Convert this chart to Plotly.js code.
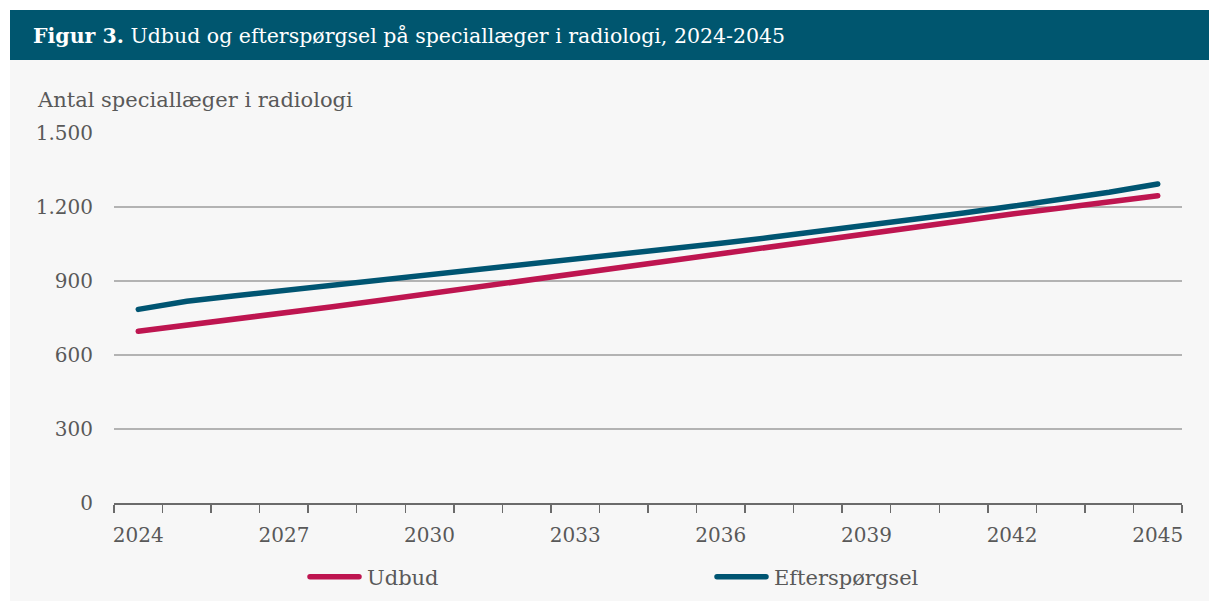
<!DOCTYPE html>
<html>
<head>
<meta charset="utf-8">
<script src="https://cdn.plot.ly/plotly-3.0.1.min.js"></script>
<style>
  html, body { margin: 0; padding: 0; background: #ffffff; }
  #chart { width: 1209px; height: 606px; }
  .scatterlayer path.js-line, .legendlines path { stroke-linecap: round; }
</style>
</head>
<body>
<div id="chart"></div>
<script>
// ---- data ----
const years = [2024, 2025, 2026, 2027, 2028, 2029, 2030, 2031, 2032, 2033, 2034,
               2035, 2036, 2037, 2038, 2039, 2040, 2041, 2042, 2043, 2044, 2045];
const udbud = [696, 720, 745, 770, 796, 822, 849, 876, 903, 930, 957,
               985, 1013, 1041, 1069, 1096, 1122, 1147, 1172, 1196, 1221, 1246];
const efterspoergsel = [785, 818, 840, 861, 882, 903, 924, 944, 965, 986, 1008,
                        1030, 1053, 1076, 1100, 1125, 1150, 1176, 1203, 1230, 1260, 1293];
const xTickYears = [2024, 2027, 2030, 2033, 2036, 2039, 2042, 2045];
const xTickLabels = ['2024', '2027', '2030', '2033', '2036', '2039', '2042', '2045'];
const yTickValues = [0, 300, 600, 900, 1200, 1500];
const seriesNames = ['Udbud', 'Efterspørgsel'];
const titleText = '<b>Figur 3.</b> Udbud og efterspørgsel på speciallæger i radiologi, 2024-2045';
const yAxisLabel = 'Antal speciallæger i radiologi';

// ---- layout helpers (pixel -> paper) ----
const W = 1209, H = 606;
const mL = 114, mR = 27, mT = 133, mB = 103;
const pw = W - mL - mR, ph = H - mT - mB;
const px = x => (x - mL) / pw;
const py = y => (H - mB - y) / ph;

const FONT = 'DejaVu Serif, serif';
const GREY = '#595959';
const LEGEND_SAMPLE = 49;

const traces = [
  { x: years, y: udbud, name: seriesNames[0], type: 'scatter', mode: 'lines',
    line: { color: '#BE1550', width: 5.5 } },
  { x: years, y: efterspoergsel, name: seriesNames[1], type: 'scatter', mode: 'lines',
    line: { color: '#005572', width: 5.5 } }
];

const layout = {
  width: W, height: H,
  margin: { l: mL, r: mR, t: mT, b: mB, autoexpand: false },
  paper_bgcolor: '#ffffff',
  plot_bgcolor: 'rgba(0,0,0,0)',
  separators: ',.',
  font: { family: FONT, color: GREY, size: 20 },
  title: {
    text: titleText,
    font: { family: FONT, size: 20.5, color: '#ffffff' },
    xref: 'container', yref: 'container',
    x: 33 / W, xanchor: 'left',
    y: 1 - 36 / H, yanchor: 'middle'
  },
  shapes: [
    { type: 'rect', xref: 'paper', yref: 'paper', layer: 'below',
      x0: px(10), x1: px(1209), y0: py(601), y1: py(60),
      fillcolor: '#f7f7f7', line: { width: 0 } },
    { type: 'rect', xref: 'paper', yref: 'paper', layer: 'below',
      x0: px(10), x1: px(1209), y0: py(60), y1: py(10),
      fillcolor: '#00566F', line: { width: 0 } }
  ],
  annotations: [
    { text: yAxisLabel, xref: 'paper', yref: 'paper',
      x: px(35), y: py(100), xanchor: 'left', yanchor: 'middle',
      showarrow: false, font: { family: FONT, size: 21, color: GREY } }
  ],
  xaxis: {
    type: 'linear',
    range: [2023.5, 2045.5],
    tickvals: xTickYears, ticktext: xTickLabels,
    ticks: '',
    showgrid: false, zeroline: false,
    showline: true, linecolor: '#6b6b6b', linewidth: 2,
    ticklabelstandoff: 13,
    tickfont: { family: FONT, size: 20, color: GREY },
    minor: { ticks: 'outside', tick0: 2023.5, dtick: 1, ticklen: 8,
             tickcolor: '#6b6b6b', tickwidth: 1.5, showgrid: false },
    automargin: false,
    fixedrange: true
  },
  yaxis: {
    range: [0, 1500],
    tickvals: yTickValues,
    tickformat: ',d',
    ticks: '',
    showgrid: true, gridcolor: '#b3b3b3', gridwidth: 1.5,
    zeroline: false, showline: false,
    ticklabelstandoff: 20,
    tickfont: { family: FONT, size: 20, color: GREY },
    automargin: false,
    fixedrange: true
  },
  showlegend: true,
  legend: {
    orientation: 'h',
    x: px(305), xanchor: 'left',
    y: py(577), yanchor: 'middle',
    itemwidth: 52,
    entrywidthmode: 'pixels', entrywidth: 340,
    bgcolor: 'rgba(0,0,0,0)',
    font: { family: FONT, size: 21, color: GREY },
    traceorder: 'normal'
  }
};

Plotly.newPlot('chart', traces, layout, { displayModeBar: false, staticPlot: true }).then(gd => {
  // lengthen the legend line samples to match the reference
  gd.querySelectorAll('.legendlines path').forEach(p => {
    p.setAttribute('d', 'M5,0h' + LEGEND_SAMPLE);
  });
});
</script>
</body>
</html>
